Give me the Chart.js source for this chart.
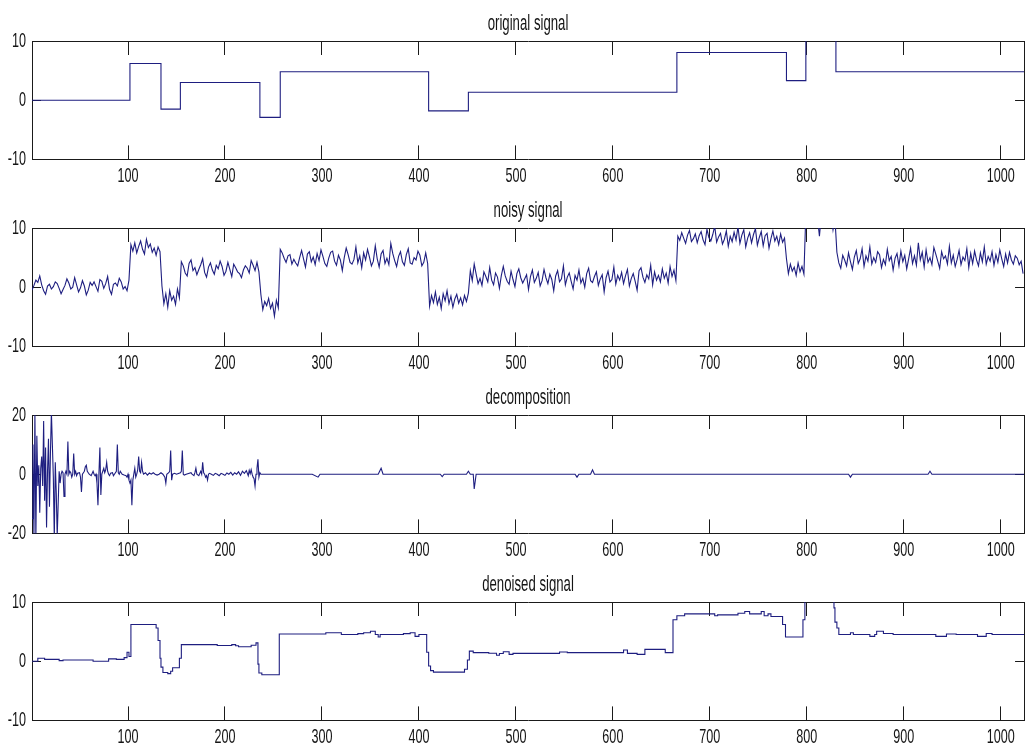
<!DOCTYPE html>
<html>
<head>
<meta charset="utf-8">
<script src="https://cdn.jsdelivr.net/npm/chart.js@4/dist/chart.umd.min.js"></script>
<style>
html, body { margin: 0; padding: 0; background: #fff; width: 1033px; height: 752px; overflow: hidden; }
.p { position: absolute; left: 0; width: 1033px; height: 187px; }
canvas { display: block; }
</style>
</head>
<body>
<div class="p" style="top:0px"><canvas id="c1" width="1033" height="187"></canvas></div>
<div class="p" style="top:187px"><canvas id="c2" width="1033" height="187"></canvas></div>
<div class="p" style="top:374px"><canvas id="c3" width="1033" height="187"></canvas></div>
<div class="p" style="top:561px"><canvas id="c4" width="1033" height="187"></canvas></div>
<script>
// ---------------- data ----------------
const panelTitles = ['original signal', 'noisy signal', 'decomposition', 'denoised signal'];
const xTicks = [100, 200, 300, 400, 500, 600, 700, 800, 900, 1000];
const yTicksSignal = [-10, 0, 10];
const yTicksDecomp = [-20, 0, 20];

// original signal: piecewise constant (segment start index, level)
const origStart = [1, 102, 134, 154, 236, 257, 410, 451, 666, 779, 799, 830, 1024];
const origLevel = [0, 6.2, -1.5, 3.0, -2.9, 4.8, -1.8, 1.35, 8.05, 3.3, 12, 4.8, 4.8];

// noisy signal, sampled every 2nd index starting at 1
const noisySignal = [
  -0.5, 0.3, 1.2, 0.8, 1.9, 0.4, -0.6, -1.2, 0.2, 0.5, -0.3, 0.1, 0.9, 0.6, -0.2, -1.1, -0.4, 0.3, 1.4, 0.7,
  -0.3, 0.0, 1.6, 0.4, -0.8, -0.1, 1.1, 0.2, -1.3, -0.5, 0.8, 0.3, 0.9, 0.1, -0.7, 1.3, 1.0, -0.2, 0.6, 1.8,
  -0.4, -1.2, 0.5, 0.7, 0.2, 1.5, 0.9, -0.3, 0.1, -0.6, 1.2,
  7.2, 6.1, 7.5, 5.8, 6.9, 7.8, 6.4, 5.6, 8.1, 6.7, 7.3, 5.9, 6.6, 5.4, 6.8, 6.0,
  0.2, -2.8, -1.1, -3.4, -0.6, -2.2, -1.5, -2.9, -0.3, -1.8,
  4.3, 3.6, 2.4, 1.9, 4.0, 4.6, 2.8, 3.3, 2.1, 3.0, 3.8, 4.8, 2.5, 1.7, 3.4, 4.1, 2.9, 2.2, 3.7, 3.1,
  4.4, 3.5, 2.0, 2.7, 4.2, 3.0, 1.8, 3.9, 3.3, 2.6, 2.3, 1.6, 2.9, 3.6, 3.2, 2.4, 4.5, 3.7, 2.8, 4.2, 2.6,
  -1.2, -3.8, -2.4, -3.1, -1.9, -3.6, -2.7, -4.9, -2.2, -3.5,
  6.4, 5.8, 4.9, 4.2, 5.3, 5.5, 3.9, 4.7, 4.1, 3.6, 5.0, 6.2, 4.8, 3.4, 5.6, 6.0, 4.3, 5.1, 3.8, 5.7,
  4.5, 6.3, 5.2, 4.0, 3.5, 4.9, 5.9, 6.1, 4.4, 3.7, 5.4, 4.6, 2.8, 5.0, 6.6, 5.5, 4.2, 3.9, 4.7, 6.8,
  4.1, 5.3, 3.3, 5.8, 4.6, 6.4, 5.1, 3.6, 4.4, 7.0, 4.8, 3.4, 5.6, 6.2, 4.0, 4.9, 3.8, 7.4, 5.7, 4.5,
  3.5, 5.2, 6.0, 4.3, 3.7, 5.5, 6.5, 4.1, 3.9, 5.0, 4.6, 6.1, 5.4, 3.6, 4.2, 5.8, 4.0,
  -3.2, -1.4, -2.6, -0.8, -2.9, -1.7, -3.6, -1.1, -2.3, -0.6, -2.8, -1.5, -3.4, -2.0, -1.2, -2.7, -1.8, -3.0, -1.4, -2.4, -1.0,
  2.8, 1.1, 3.9, 2.2, 0.6, 1.5, 0.3, 2.6, 1.8, 0.9, 3.3, 1.2, 0.4, 2.4, 1.7, -0.2, 2.0, 3.5, 1.9, 1.0,
  0.5, 2.7, 1.3, 0.1, 2.3, 3.1, 1.6, 0.7, 1.4, 2.1, -0.4, 1.8, 2.9, 0.8, 1.5, 2.5, 0.2, 1.1, 3.0, 1.6,
  0.6, 2.2, 1.3, -0.6, 1.9, 2.8, 0.9, 1.4, 3.6, 0.4, 1.7, 2.4, 1.0, -0.3, 2.0, 1.2, 2.9, 0.7, 1.5, 0.0,
  2.3, 3.2, 1.1, 0.8, 1.8, 2.6, 0.3, 1.4, 2.1, -0.8, 1.6, 2.7, 0.9, 1.3, 3.4, 0.5, 2.0, 1.2, 2.5, 0.6,
  1.9, 3.0, 0.2, 1.5, 2.3, 1.0, -0.5, 2.8, 3.3, 1.7, 0.8, 2.1, 1.4, 3.7, 0.4, 2.6, 1.2, 2.0, 0.9, 3.1,
  1.5, 2.4, 0.7, 3.5, 1.8, 2.9, 1.1,
  8.6, 7.9, 9.2, 8.3, 7.4, 8.8, 9.6, 7.7, 8.2, 9.0, 7.5, 8.7, 9.4, 8.0, 7.2, 9.8, 8.4, 7.8, 8.9, 10.3,
  7.6, 8.5, 9.1, 7.3, 8.1, 9.5, 6.9, 8.6, 7.7, 9.3, 8.0, 10.2, 7.4, 8.8, 9.7, 6.8, 8.3, 9.2, 7.5, 8.9,
  9.9, 7.1, 8.4, 9.4, 7.0, 8.7, 9.1, 6.6, 8.2, 9.5, 7.8, 8.6, 7.2, 9.0, 7.6, 8.3,
  4.8, 2.3, 3.9, 2.7, 3.4, 2.0, 4.1, 2.6, 3.5, 2.2,
  12.5, 11.8, 13.2, 12.0, 11.4, 12.9, 11.7, 8.6, 12.3, 11.5, 13.0, 12.2, 11.9, 12.6, 9.7, 11.6,
  5.9, 4.1, 3.2, 5.4, 4.6, 3.6, 5.8, 4.3, 3.0, 5.1, 6.2, 4.0, 4.8, 6.5, 3.5, 5.3, 4.4, 6.8, 3.9, 5.0,
  4.2, 6.0, 5.5, 3.3, 4.7, 3.8, 6.4, 4.5, 5.2, 2.9, 4.9, 5.7, 3.6, 6.1, 4.3, 5.4, 3.1, 4.8, 6.6, 4.0,
  5.3, 3.7, 7.5, 4.6, 5.9, 3.4, 6.3, 4.2, 5.0, 3.8, 6.7, 5.6, 4.4, 3.2, 6.0, 4.8, 5.3, 3.9, 6.9, 4.1,
  5.4, 3.5, 4.7, 6.2, 3.8, 5.1, 4.5, 6.5, 3.3, 5.7, 4.0, 6.1, 4.6, 3.6, 5.8, 4.3, 6.8, 3.9, 5.2, 4.4,
  6.0, 3.7, 5.5, 4.2, 6.3, 4.8, 3.5, 5.6, 4.1, 5.9, 4.6, 3.9, 5.3, 4.9, 3.8, 4.4, 2.3
];

// decomposition coefficients (index, value)
const decompX = [
  1, 2, 3, 4, 5, 6, 7, 8, 9, 10,
  11, 12, 13, 14, 15, 16, 17, 18, 19, 20,
  21, 22, 23, 24, 25, 26, 27, 28, 29, 30,
  31, 32, 33, 34, 35, 36, 37, 38, 39, 40,
  41, 42, 43, 44, 45, 46, 47, 48, 50, 51,
  52, 53, 54, 55, 56, 57, 58, 59, 60, 62,
  64, 65, 66, 67, 68, 69, 70, 71, 72, 73,
  74, 75, 76, 77, 78, 79, 80, 81, 82, 84,
  85, 86, 88, 89, 90, 91, 92, 93, 94, 96,
  98, 99, 100, 101, 102, 103, 104, 105, 106, 107,
  108, 109, 110, 111, 112, 113, 114, 115, 116, 118,
  120, 122, 124, 126, 128, 130, 132, 134, 136, 138,
  139, 140, 142, 143, 144, 145, 146, 148, 150, 154,
  155, 156, 157, 158, 160, 165, 166, 168, 169, 170,
  171, 173, 175, 176, 177, 178, 179, 180, 181, 182,
  183, 184, 186, 188, 190, 192, 194, 196, 198, 200,
  202, 204, 206, 208, 210, 212, 214, 216, 218, 220,
  222, 224, 225, 226, 227, 228, 229, 230, 231, 232,
  233, 234, 235, 236, 237, 290, 296, 298, 358, 361,
  363, 422, 424, 426, 449, 451, 453, 456, 457, 459,
  561, 563, 565, 577, 579, 581, 843, 845, 847, 925,
  927, 929, 1024
];
const decompY = [
  -15, 10, -21, 21, -22, 13, -4, 3, -13, 2,
  6, -4, 18, -9, 9, -18, 1, 12, -11, 7,
  21, 10, -1, -22, 4, -6, -21, -10, 1, -3,
  0, 1, 0.5, -7.5, 0, 1, 0, 11, 0, 1,
  0.5, -1, 0, 7, 0, 1, -0.5, 0.3, 0.5, -1,
  -6, 0, 0.5, 1, 2.5, 3, 1, 0.5, 0, -0.5,
  1, 0, -0.5, 0, -3, -10.5, 0, 9, -7, 0,
  1, 2, 0.5, 1.5, 4, 1, 0, -0.5, 0.3, 0.5,
  -0.5, 0, 1, 10, 0.5, 0, 1, 0.5, 0, -0.3,
  -0.5, -1, 0, -2, -3, -2, -10.5, -2, 0, 2,
  -1, 0, 1.5, 6, 1, 0.5, 4, 1, 0, 0.5,
  -0.3, 0.4, 0, 0.5, 0, -0.3, 0, 0.5, 0, -1,
  -3, 0, 0.5, 1, 8, -2, 0, 0.3, 0, 0.5,
  1, 8, 0, -0.3, 0, 0.5, 0, -0.5, 0.5, 2,
  0, -0.5, 1, 0, 4, 0.5, 0, -1, -0.5, -2,
  0, 0.3, 0, -0.4, 0.3, 0, -0.5, 0.3, 0, -0.4,
  0.4, 0, 0.6, -0.3, 0.5, 0, 0.8, -0.4, 1, 0.3,
  1.2, -0.5, 1.3, 0.2, 1.5, 0, -1, -1.5, -4, 0,
  2, 5, -1, 0.5, 0, 0, -1, 0, 0, 2,
  0, 0, -0.8, 0, 0, 1, 0, 0, -5, 0,
  0, -1, 0, 0, 1.5, 0, 0, -1, 0, 0,
  1, 0, 0
];

// denoised signal: steps (start index, level)
const denoisedX = [
  1, 7, 14, 29, 33, 64, 80, 88, 96, 99,
  101, 103, 129, 131, 133, 134, 136, 141, 144, 146,
  153, 155, 192, 207, 211, 214, 227, 232, 234, 235,
  238, 256, 304, 320, 337, 343, 350, 355, 358, 360,
  384, 391, 396, 400, 408, 410, 412, 415, 447, 450,
  452, 456, 472, 480, 483, 487, 493, 497, 545, 553,
  611, 615, 625, 633, 654, 662, 666, 674, 705, 708,
  729, 736, 741, 753, 756, 760, 763, 775, 778, 796,
  798, 828, 829, 831, 833, 845, 848, 865, 870, 872,
  879, 889, 933, 944, 954, 976, 985, 991, 1024
];
const denoisedY = [
  0, 0.5, 0.3, 0.1, 0.2, 0, 0.4, 0.3, 0.6, 1.5,
  0.8, 6.2, 5.6, 3.5, 0.5, -1.0, -1.9, -2.1, -1.7, -1.1,
  0.5, 2.8, 2.65, 2.8, 2.6, 2.45, 2.7, 3.1, -0.5, -2.0,
  -2.3, 4.6, 4.8, 4.5, 4.65, 4.8, 5.05, 4.5, 4.1, 4.5,
  4.65, 4.8, 4.2, 4.5, 1.5, -0.8, -1.6, -1.85, -1.35, 0.2,
  1.7, 1.45, 1.35, 1.0, 1.3, 1.6, 1.15, 1.33, 1.55, 1.45,
  1.9, 1.33, 1.15, 2.0, 1.45, 7.0, 7.67, 8.0, 7.67, 7.83,
  8.1, 8.4, 8.0, 8.4, 7.67, 8.0, 7.55, 6.2, 4.1, 7.0,
  12, 9.0, 6.6, 5.6, 4.5, 4.8, 4.5, 4.2, 4.5, 5.05,
  4.67, 4.5, 4.2, 4.6, 4.5, 4.2, 4.67, 4.5, 4.5
];

// ---------------- drawing ----------------
const FONT = "'Liberation Sans', Arial, Helvetica, sans-serif";
const LINE = '#1e1e80';
const AXIS = '#1a1a1a';
const TEXT = '#151515';
const SX = 0.6; // narrow, tall lettering as in the reference

function squeezeText(ctx) {
  const ft = ctx.fillText.bind(ctx);
  const mt = ctx.measureText.bind(ctx);
  ctx.fillText = function (t, x, y) {
    this.save();
    this.translate(x, y);
    this.scale(SX, 1);
    ft(t, 0, 0);
    this.restore();
  };
  ctx.measureText = function (t) {
    const m = mt(t);
    return {
      width: m.width * SX,
      actualBoundingBoxAscent: m.actualBoundingBoxAscent,
      actualBoundingBoxDescent: m.actualBoundingBoxDescent,
      actualBoundingBoxLeft: m.actualBoundingBoxLeft * SX,
      actualBoundingBoxRight: m.actualBoundingBoxRight * SX
    };
  };
}

function makePanel(id, title, points, yMin, yMax, yTicks, stepped) {
  const canvas = document.getElementById(id);
  const ctx = canvas.getContext('2d');
  squeezeText(ctx);
  const tickFont = { family: FONT, size: 21, lineHeight: 1.2 };
  const setX = s => { s.ticks = xTicks.map(v => ({ value: v })); };
  const setY = s => { s.ticks = yTicks.map(v => ({ value: v })); };
  const border = { display: true, color: AXIS, width: 1 };
  const gridX = { display: true, drawOnChartArea: false, drawTicks: true, tickLength: -14, color: AXIS, tickColor: AXIS, tickWidth: 1 };
  const gridY = { display: true, drawOnChartArea: false, drawTicks: true, tickLength: -9, color: AXIS, tickColor: AXIS, tickWidth: 1 };
  return new Chart(ctx, {
    type: 'line',
    data: {
      datasets: [{
        data: points,
        borderColor: LINE,
        borderWidth: 1.1,
        pointRadius: 0,
        tension: 0,
        fill: false,
        stepped: stepped
      }]
    },
    options: {
      responsive: false,
      animation: false,
      events: [],
      layout: { padding: { top: 0, left: 0, right: 1.5, bottom: 0 } },
      plugins: {
        legend: { display: false },
        tooltip: { enabled: false },
        title: {
          display: true,
          text: title,
          fullSize: false,
          color: TEXT,
          font: { family: FONT, size: 22, weight: 'normal', lineHeight: 1.2 },
          padding: { top: 11.2, bottom: 3.4 }
        }
      },
      scales: {
        x: {
          type: 'linear', position: 'bottom', min: 1, max: 1024,
          afterBuildTicks: setX,
          afterFit: s => { s.height = 26; },
          grid: gridX, border: border,
          ticks: { font: tickFont, color: TEXT, padding: 18, maxRotation: 0, minRotation: 0, autoSkip: false, callback: v => String(v) }
        },
        x2: {
          type: 'linear', position: 'top', min: 1, max: 1024,
          afterBuildTicks: setX,
          afterFit: s => { s.height = 0; },
          grid: gridX, border: border,
          ticks: { display: false }
        },
        y: {
          type: 'linear', position: 'left', min: yMin, max: yMax,
          afterBuildTicks: setY,
          afterFit: s => { s.width = 32; },
          grid: gridY, border: border,
          ticks: { font: tickFont, color: TEXT, padding: 15, autoSkip: false, callback: v => String(v) }
        },
        y2: {
          type: 'linear', position: 'right', min: yMin, max: yMax,
          afterBuildTicks: setY,
          afterFit: s => { s.width = 0; },
          grid: gridY, border: border,
          ticks: { display: false }
        }
      }
    }
  });
}

const origPoints = origStart.map((x, i) => ({ x: x, y: origLevel[i] }));
const noisyPoints = noisySignal.map((v, i) => ({ x: 1 + 2 * i, y: v }));
const decompPoints = decompX.map((x, i) => ({ x: x, y: decompY[i] }));
const denoisedPoints = denoisedX.map((x, i) => ({ x: x, y: denoisedY[i] }));

makePanel('c1', panelTitles[0], origPoints, -10, 10, yTicksSignal, 'before');
makePanel('c2', panelTitles[1], noisyPoints, -10, 10, yTicksSignal, false);
makePanel('c3', panelTitles[2], decompPoints, -20, 20, yTicksDecomp, false);
makePanel('c4', panelTitles[3], denoisedPoints, -10, 10, yTicksSignal, 'before');
</script>
</body>
</html>
